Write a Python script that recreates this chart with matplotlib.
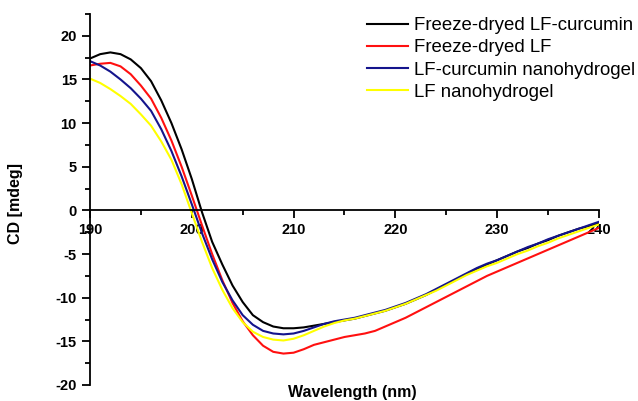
import matplotlib.pyplot as plt
from matplotlib.ticker import MultipleLocator

plt.rcParams['font.family'] = ['Liberation Sans', 'DejaVu Sans']
plt.rcParams['axes.unicode_minus'] = False

# wavelength (nm) and CD signal (mdeg)
wavelength = list(range(190, 241))

fd_lf_curcumin = [17.4, 17.9, 18.1, 17.9, 17.3, 16.3, 14.8, 12.6, 10.0, 7.0,
                  3.6, -0.2, -3.6, -6.2, -8.6, -10.5, -12.0, -12.8, -13.3, -13.5,
                  -13.5, -13.4, -13.2, -13.0, -12.8, -12.6, -12.4, -12.1, -11.8, -11.5,
                  -11.1, -10.7, -10.2, -9.7, -9.1, -8.5, -7.9, -7.3, -6.7, -6.2,
                  -5.7, -5.2, -4.7, -4.3, -3.8, -3.4, -2.9, -2.5, -2.1, -1.8, -1.5]

fd_lf = [16.6, 16.8, 16.9, 16.5, 15.6, 14.3, 12.8, 10.6, 8.0, 5.0,
         1.7, -1.7, -5.0, -8.0, -10.6, -12.7, -14.3, -15.5, -16.2, -16.4,
         -16.3, -15.9, -15.4, -15.1, -14.8, -14.5, -14.3, -14.1, -13.8, -13.3,
         -12.8, -12.3, -11.7, -11.1, -10.5, -9.9, -9.3, -8.7, -8.1, -7.5,
         -7.0, -6.5, -6.0, -5.5, -5.0, -4.5, -4.0, -3.5, -3.0, -2.5, -2.0]

lf_curcumin_gel = [17.1, 16.6, 15.9, 15.0, 14.0, 12.8, 11.4, 9.3, 6.8, 3.9,
                   0.7, -2.6, -5.6, -8.2, -10.3, -12.0, -13.1, -13.8, -14.1, -14.2,
                   -14.1, -13.8, -13.4, -13.0, -12.7, -12.5, -12.3, -12.0, -11.7, -11.4,
                   -11.0, -10.6, -10.1, -9.6, -9.0, -8.4, -7.8, -7.2, -6.6, -6.1,
                   -5.7, -5.2, -4.7, -4.2, -3.8, -3.3, -2.9, -2.5, -2.1, -1.7, -1.3]

lf_gel = [15.1, 14.6, 13.9, 13.1, 12.2, 11.0, 9.7, 7.9, 5.8, 3.0,
          -0.3, -3.6, -6.6, -9.1, -11.2, -12.8, -13.9, -14.5, -14.8, -14.9,
          -14.7, -14.3, -13.8, -13.3, -12.9, -12.6, -12.4, -12.1, -11.8, -11.5,
          -11.1, -10.7, -10.2, -9.7, -9.2, -8.6, -8.0, -7.4, -6.9, -6.4,
          -6.0, -5.5, -5.0, -4.6, -4.1, -3.7, -3.2, -2.8, -2.4, -2.0, -1.6]

labels = ['Freeze-dryed LF-curcumin', 'Freeze-dryed LF',
          'LF-curcumin nanohydrogel', 'LF nanohydrogel']

fig = plt.figure(figsize=(6.38, 4.01), dpi=100)
ax = fig.add_axes([90 / 638, 16 / 401, 509 / 638, 371 / 401])

ax.plot(wavelength, fd_lf_curcumin, color='black', lw=1.5, label=labels[0])
ax.plot(wavelength, fd_lf, color='#ff1010', lw=1.5, label=labels[1])
ax.plot(wavelength, lf_curcumin_gel, color='#14148c', lw=1.5, label=labels[2])
ax.plot(wavelength, lf_gel, color='#ffff00', lw=1.5, label=labels[3])

ax.set_xlim(190, 240)
ax.set_ylim(-20, 22.5)

# axes look: x axis drawn through zero, no box
ax.spines['top'].set_visible(False)
ax.spines['right'].set_visible(False)
ax.spines['bottom'].set_position(('data', 0))
for s in ('left', 'bottom'):
    ax.spines[s].set_linewidth(1.3)

ax.xaxis.set_major_locator(MultipleLocator(10))
ax.xaxis.set_minor_locator(MultipleLocator(5))
ax.yaxis.set_major_locator(MultipleLocator(5))
ax.yaxis.set_minor_locator(MultipleLocator(2.5))
ax.tick_params(which='major', length=6, width=1.3, labelsize=10.5, direction='out')
ax.tick_params(which='minor', length=3.5, width=1.3, direction='out')
ax.tick_params(axis='x', pad=3)
for t in ax.get_xticklabels() + ax.get_yticklabels():
    t.set_fontweight('bold')

ax.set_xlabel('Wavelength (nm)', fontsize=11.5, fontweight='bold')
ax.xaxis.set_label_coords(0.515, 0.0)
ax.set_ylabel('CD [mdeg]', fontsize=11.5, fontweight='bold')
ax.yaxis.set_label_coords(-0.132, 0.49)

ax.legend(loc='upper left', bbox_to_anchor=(367 / 638, 1 - 17 / 401),
          bbox_transform=fig.transFigure, frameon=False, fontsize=13.4,
          handlelength=2.2, handletextpad=0.33, labelspacing=0.28,
          borderpad=0, borderaxespad=0)

fig.savefig('out.png', dpi=100)
